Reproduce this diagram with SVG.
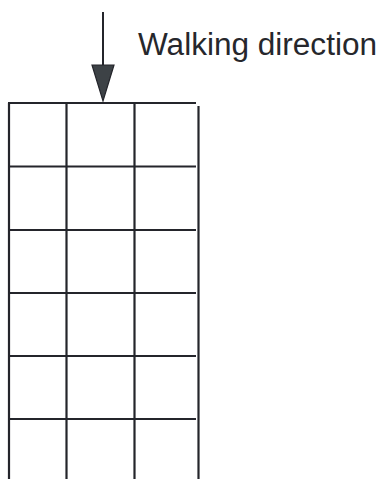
<svg xmlns="http://www.w3.org/2000/svg" width="381" height="479" viewBox="0 0 381 479">
<style>
.g{stroke:#24252b;stroke-width:2.2;fill:none}
.lbl{font-family:"Liberation Sans",Arial,sans-serif;font-size:31px;fill:#26272c}
</style>
<rect width="381" height="479" fill="#fff"/>
<g id="grid">
<line class="g" x1="8" y1="103" x2="196" y2="103"/>
<line class="g" x1="9" y1="166.5" x2="196" y2="166.5"/>
<line class="g" x1="9" y1="230" x2="196" y2="230"/>
<line class="g" x1="9" y1="293" x2="196" y2="293"/>
<line class="g" x1="9" y1="356" x2="196" y2="356"/>
<line class="g" x1="9" y1="419" x2="196" y2="419"/>
<line class="g" x1="9" y1="103" x2="9" y2="479"/>
<line class="g" x1="66.5" y1="103" x2="66.5" y2="479"/>
<line class="g" x1="134.5" y1="103" x2="134.5" y2="479"/>
<line class="g" x1="198.5" y1="106" x2="198.5" y2="479"/>
</g>
<g id="connectors">
<line x1="103" y1="12" x2="103" y2="66" stroke="#24252b" stroke-width="2"/>
<polygon points="92,65 114,65 103,101" fill="#3d4246" stroke="#24252b" stroke-width="1.2"/>
</g>
<g id="label">
<text class="lbl" x="138" y="55" textLength="239" lengthAdjust="spacingAndGlyphs">Walking direction</text>
</g>
</svg>
